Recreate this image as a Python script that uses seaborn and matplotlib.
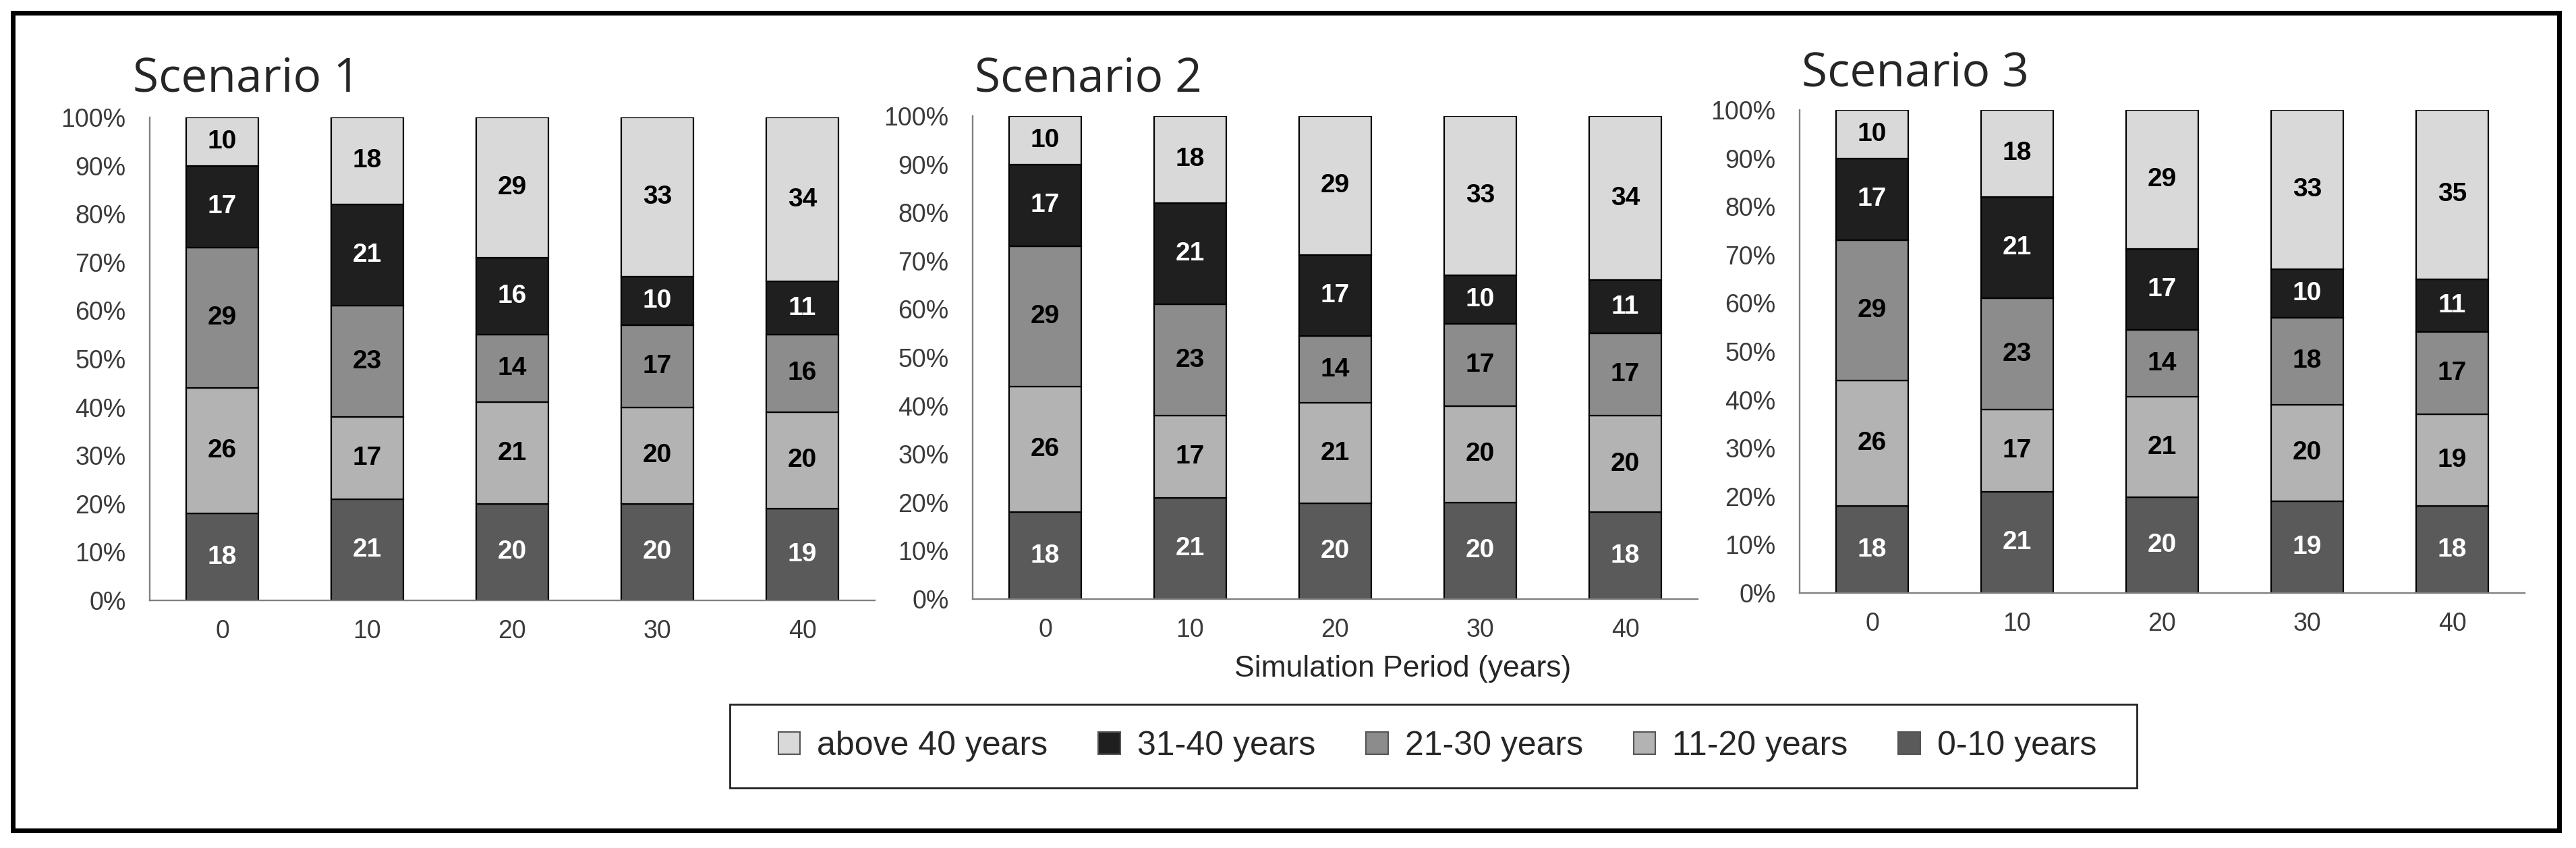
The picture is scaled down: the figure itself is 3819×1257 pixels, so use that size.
import matplotlib
matplotlib.use('Agg')
import matplotlib.pyplot as plt
from matplotlib.patches import Patch, Rectangle
from matplotlib.ticker import PercentFormatter, MultipleLocator
import numpy as np
import pandas as pd
import seaborn as sns

sns.set_style('white')
plt.rcParams['font.family'] = ['Liberation Sans', 'DejaVu Sans']

periods = [0, 10, 20, 30, 40]
age_classes = ['above 40 years', '31-40 years', '21-30 years', '11-20 years', '0-10 years']
scenarios = ['Scenario 1', 'Scenario 2', 'Scenario 3']

# share of each age class (%) per simulation period, top class first
s1_above40 = [10, 18, 29, 33, 34]
s1_31_40 = [17, 21, 16, 10, 11]
s1_21_30 = [29, 23, 14, 17, 16]
s1_11_20 = [26, 17, 21, 20, 20]
s1_0_10 = [18, 21, 20, 20, 19]

s2_above40 = [10, 18, 29, 33, 34]
s2_31_40 = [17, 21, 17, 10, 11]
s2_21_30 = [29, 23, 14, 17, 17]
s2_11_20 = [26, 17, 21, 20, 20]
s2_0_10 = [18, 21, 20, 20, 18]

s3_above40 = [10, 18, 29, 33, 35]
s3_31_40 = [17, 21, 17, 10, 11]
s3_21_30 = [29, 23, 14, 18, 17]
s3_11_20 = [26, 17, 21, 20, 19]
s3_0_10 = [18, 21, 20, 19, 18]

colors = ['#d9d9d9', '#1f1f1f', '#8c8c8c', '#b3b3b3', '#5a5a5a']
label_colors = ['black', 'white', 'black', 'black', 'white']

scenario_values = {
    'Scenario 1': [s1_above40, s1_31_40, s1_21_30, s1_11_20, s1_0_10],
    'Scenario 2': [s2_above40, s2_31_40, s2_21_30, s2_11_20, s2_0_10],
    'Scenario 3': [s3_above40, s3_31_40, s3_21_30, s3_11_20, s3_0_10],
}

rows = []
for sc, series in scenario_values.items():
    for cls, vals in zip(age_classes, series):
        for p, v in zip(periods, vals):
            rows.append({'scenario': sc, 'age': cls, 'period': p, 'share': v})
df = pd.DataFrame(rows)

W, H = 3819, 1257
fig = plt.figure(figsize=(W / 100, H / 100), dpi=100)

# axes boxes in pixels: left, top, bottom
boxes = [(222, 174, 890), (1442, 172, 888), (2668, 163, 879)]
title_pos = [(197, 135), (1445, 135), (2671, 128)]
ax_w = 1075

step = periods[1] - periods[0]
edges = [p - step / 2 for p in periods] + [periods[-1] + step / 2]
palette = dict(zip(age_classes, colors))

for sc, (l, t, b), (tx, ty) in zip(scenarios, boxes, title_pos):
    ax = fig.add_axes([l / W, 1 - b / H, ax_w / W, (b - t) / H])
    sns.histplot(data=df[df['scenario'] == sc], x='period', hue='age', weights='share',
                 hue_order=age_classes, palette=palette, multiple='fill', bins=edges,
                 shrink=0.5, alpha=1, edgecolor='black', linewidth=1.6,
                 legend=False, ax=ax)

    # segment labels at the middle of each stacked block
    vals = np.array(scenario_values[sc], dtype=float)[::-1]
    frac = vals / vals.sum(axis=0)
    mids = frac.cumsum(axis=0) - frac / 2
    for k in range(len(age_classes)):
        ci = len(age_classes) - 1 - k
        for j, p in enumerate(periods):
            ax.text(p, mids[k, j], f'{int(vals[k, j])}', ha='center', va='center',
                    fontsize=28, fontweight='bold', color=label_colors[ci])

    ax.set_xlim(edges[0], edges[-1])
    ax.set_ylim(0, 1)
    ax.set_xticks(periods)
    ax.set_xticklabels([str(p) for p in periods])
    ax.yaxis.set_major_locator(MultipleLocator(0.1))
    ax.yaxis.set_major_formatter(PercentFormatter(1.0, decimals=0))
    ax.set_xlabel('')
    ax.set_ylabel('')
    sns.despine(ax=ax)
    for s in ['left', 'bottom']:
        ax.spines[s].set_color('#808080')
        ax.spines[s].set_linewidth(1.7)
    ax.tick_params(axis='both', direction='out', length=8.5, width=1.7, color='#808080',
                   labelsize=27, labelcolor='#3a3a3a')
    ax.tick_params(axis='y', pad=17)
    ax.tick_params(axis='x', pad=12)

    fig.text(tx / W, 1 - ty / H, sc, fontsize=50, va='baseline',
             family=['Open Sans', 'DejaVu Sans'])

fig.text(2080 / W, 1 - 1003 / H, 'Simulation Period (years)', ha='center',
         va='baseline', fontsize=32)

handles = [Patch(facecolor=c, edgecolor='#555555', linewidth=1.5, label=a)
           for a, c in zip(age_classes, colors)]
fig.legend(handles=handles, loc='center', bbox_to_anchor=(2131 / W, 1 - 1106 / H),
           ncol=5, frameon=False, fontsize=36, handlelength=0.65, handleheight=0.65,
           handletextpad=0.5, columnspacing=1.5)

# legend box and outer frame
fig.patches.append(Rectangle((1082 / W, 1 - 1168 / H), (3168 - 1082) / W, (1168 - 1044) / H,
                             transform=fig.transFigure, fill=False, edgecolor='#222222',
                             linewidth=2))
fig.patches.append(Rectangle((18.5 / W, 1 - 1230.5 / H), (3793.5 - 18.5) / W,
                             (1230.5 - 18.5) / H, transform=fig.transFigure, fill=False,
                             edgecolor='black', linewidth=5))

fig.savefig('out.png', dpi=100)
